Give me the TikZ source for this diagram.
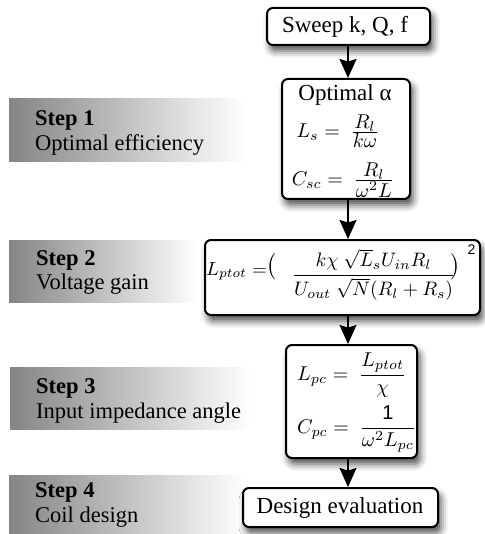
\documentclass[tikz,border=0pt]{standalone}
\usepackage{amsmath}
\usepackage{graphicx}
\usepackage{fontspec}
\setmainfont{Liberation Serif}
\newfontfamily\helv{Liberation Sans}
\usetikzlibrary{arrows.meta,shadows.blur}
\newcommand{\mbig}[2][2]{\scalebox{#1}{#2}}
\newcommand{\cfr}[2]{\frac{\textstyle #1}{\textstyle #2}}
\begin{document}
\begin{tikzpicture}[x=1pt,y=-1pt,
  box/.style={draw=black, line width=2pt, rounded corners=6pt, fill=white,
    blur shadow={shadow xshift=3pt, shadow yshift=-6pt, shadow blur radius=7pt, shadow opacity=70},
    inner sep=0pt},
  arr/.style={line width=2pt, -{Stealth[length=19pt,width=17pt,inset=2.5pt]}},
  band/.style={left color=black!48, middle color=black!13, right color=white, draw=none},
  lab/.style={inner sep=0pt, anchor=base west, font=\fontsize{22.5}{26}\selectfont},
  btxt/.style={inner sep=0pt, font=\fontsize{23}{27}\selectfont},
  mth/.style={inner sep=0pt}]
\useasboundingbox (0,0) rectangle (484,534);
% gradient bands
\shade[band] (9,99) rectangle (245,162);
\shade[band] (9,240) rectangle (198,302);
\shade[band] (10,367) rectangle (250,429);
\shade[band] (9,475) rectangle (245,534);
% step labels
\node[lab] (s1a) at (35,126) {\bfseries Step 1};
\node[lab] (s1b) at (35,151) {Optimal efficiency};
\node[lab] (s2a) at (36,265) {\bfseries Step 2};
\node[lab] (s2b) at (36,289) {Voltage gain};
\node[lab] (s3a) at (36,393) {\bfseries Step 3};
\node[lab] (s3b) at (36,418) {Input impedance angle};
\node[lab] (s4a) at (35,497) {\bfseries Step 4};
\node[lab] (s4b) at (35,522) {Coil design};
% boxes
\node[box, minimum width=163pt, minimum height=37pt] (b1) at (348.5,26.5) {};
\node[box, minimum width=128pt, minimum height=120pt] (b2) at (346,139) {};
\node[box, minimum width=275pt, minimum height=75pt] (b3) at (342.5,277.5) {};
\node[box, minimum width=131pt, minimum height=113pt] (b4) at (351.5,401.5) {};
\node[box, minimum width=195pt, minimum height=39pt] (b5) at (340.5,507.5) {};
% box contents
\node[btxt] (t1) at (345,27) {Sweep k, Q, f};
\node[btxt, anchor=base] (t2a) at (345,101) {Optimal α};
\node[mth, anchor=base] (t2b) at (338,137.5) {\mbig{$L_s = \ \cfr{R_l}{k\omega}$}};
\node[mth, anchor=base] (t2c) at (343,185.5) {\mbig{$C_{sc} = \ \cfr{R_l}{\omega^2 L}$}};
\node[mth, anchor=base west] (t3a) at (206,275) {\mbig[1.9]{$L_{ptot} =$}};
\node[mth] (t3l) at (272,266.5) {\mbig[2.2]{$\big($}};
\node[mth, anchor=base] (t3f) at (373.5,280) {\mbig[1.95]{$\dfrac{k\chi\ \sqrt{L}_sU_{in}R_l}{U_{out}\ \sqrt{N}(R_l+R_s)}$}};
\node[mth] (t3r) at (456,266.5) {\mbig[2.2]{$\big)$}};
\node[inner sep=0pt, font=\helv\fontsize{14}{16}\selectfont] (t3e) at (471.5,250) {2};
\node[mth, anchor=base west] (t4a) at (297,380) {\mbig{$L_{pc} = \ \dfrac{L_{ptot}}{\chi}$}};
\node[mth, anchor=base west] (t4b) at (297,433) {\mbig{$C_{pc} = \ \dfrac{\mbox{\helv 1}}{\omega^2 L_{pc}}$}};
\node[btxt] (t5) at (340,508) {Design evaluation};
% connectors
\coordinate (sp) at (348,0);
\draw[arr] (b1.south -| sp) -- (b2.north -| sp);
\draw[arr] (b2.south -| sp) -- (b3.north -| sp);
\draw[arr] (b3.south -| sp) -- (b4.north -| sp);
\draw[arr] (b4.south -| sp) -- (b5.north -| sp);
\end{tikzpicture}
\end{document}
